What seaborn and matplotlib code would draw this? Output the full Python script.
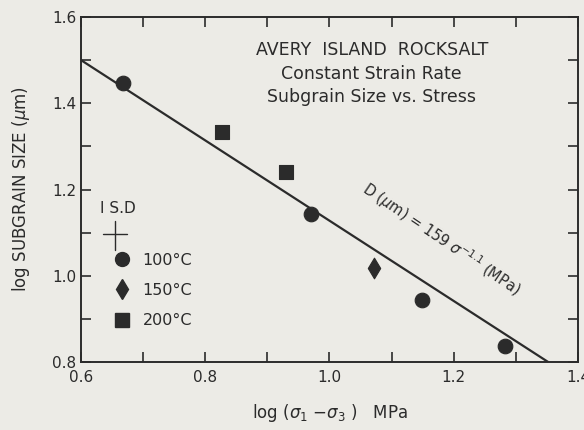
import matplotlib
matplotlib.use("Agg")
import matplotlib.pyplot as plt
from matplotlib.lines import Line2D
from matplotlib.ticker import MultipleLocator
import numpy as np
import pandas as pd
import seaborn as sns

# data
stress_log = [0.668, 0.970, 1.149, 1.283, 1.071, 0.827, 0.930]
size_log = [1.447, 1.143, 0.944, 0.837, 1.018, 1.333, 1.241]
temps = ["100°C", "100°C", "100°C", "100°C", "150°C", "200°C", "200°C"]
fit_x = [0.6, 1.352]
fit_y = [1.50, 0.80]

ink = "#2b2b2b"
paper = "#ecebe6"

sns.set_style("ticks")
plt.rcParams["font.family"] = ["DejaVu Sans"]

df = pd.DataFrame({"x": stress_log, "y": size_log, "T": temps})
fit = pd.DataFrame({"x": fit_x, "y": fit_y})

fig = plt.figure(figsize=(5.84, 4.30), dpi=100, facecolor=paper)
ax = fig.add_axes([0.1387, 0.1581, 0.851, 0.8024])
ax.set_facecolor(paper)

markers = {"100°C": "o", "150°C": "d", "200°C": "s"}
sizes = {"100°C": 110, "150°C": 110, "200°C": 100}
for t, m in markers.items():
    sub = df[df["T"] == t]
    sns.scatterplot(data=sub, x="x", y="y", marker=m, s=sizes[t], color=ink,
                    edgecolor=ink, ax=ax, legend=False, zorder=3)

sns.lineplot(data=fit, x="x", y="y", color=ink, linewidth=1.6, ax=ax, zorder=2)

ax.set_xlim(0.6, 1.4)
ax.set_ylim(0.8, 1.6)
ax.xaxis.set_major_locator(MultipleLocator(0.2))
ax.xaxis.set_minor_locator(MultipleLocator(0.1))
ax.yaxis.set_major_locator(MultipleLocator(0.2))
ax.yaxis.set_minor_locator(MultipleLocator(0.1))
ax.set_xticklabels([f"{v:.1f}" for v in ax.get_xticks()])
ax.tick_params(which="both", direction="in", top=True, right=True,
               color=ink, width=1.2, labelsize=11, labelcolor=ink,
               labeltop=False, labelright=False)
ax.tick_params(which="major", length=7)
ax.tick_params(which="minor", length=7)
ax.tick_params(axis="x", pad=6)
for sp in ax.spines.values():
    sp.set_color(ink)
    sp.set_linewidth(1.4)

ax.set_xlabel("log ($\\sigma_1$ $-\\sigma_3$ )   MPa", fontsize=12, color=ink, labelpad=12)
ax.set_ylabel("log SUBGRAIN SIZE ($\\mu$m)", fontsize=12, color=ink, labelpad=14)

# title block
ax.text(0.585, 0.905, "AVERY  ISLAND  ROCKSALT", transform=ax.transAxes,
        ha="center", va="center", fontsize=12.5, color=ink)
ax.text(0.585, 0.835, "Constant Strain Rate", transform=ax.transAxes,
        ha="center", va="center", fontsize=12.5, color=ink)
ax.text(0.585, 0.768, "Subgrain Size vs. Stress", transform=ax.transAxes,
        ha="center", va="center", fontsize=12.5, color=ink)

# fit equation along the line
ax.text(1.18, 1.085, "D ($\\mu$m) = 159 $\\sigma^{-1.1}$ (MPa)", rotation=-34,
        rotation_mode="anchor", ha="center", va="center", fontsize=10.5, color=ink)

# legend: standard deviation cross + temperature symbols
ax.text(0.075, 0.445, "I S.D", transform=ax.transAxes, ha="center", va="center",
        fontsize=11, color=ink)
ax.plot([0.045, 0.093], [0.37, 0.37], transform=ax.transAxes, color=ink, lw=1.0)
ax.plot([0.069, 0.069], [0.325, 0.41], transform=ax.transAxes, color=ink, lw=1.0)

handles = [Line2D([], [], marker=markers[t], color=ink, linestyle="none",
                  markersize=10 if t != "200°C" else 9.5) for t in markers]
leg = ax.legend(handles, list(markers), loc="upper left", bbox_to_anchor=(0.05, 0.335),
                frameon=False, fontsize=11.5, handletextpad=0.7, labelspacing=0.95,
                borderaxespad=0, handlelength=1.2, labelcolor=ink)

fig.savefig("out.png", dpi=100, facecolor=paper)
